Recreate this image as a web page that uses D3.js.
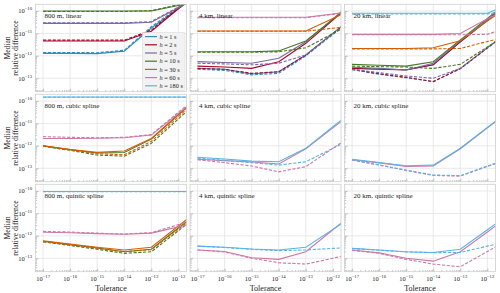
<!DOCTYPE html>
<html><head><meta charset="utf-8">
<script src="https://cdn.jsdelivr.net/npm/d3@7"></script>
<style>
body{margin:0;background:#fff}
svg{display:block}
text{font-family:"Liberation Serif","DejaVu Serif",serif;fill:#222}
</style></head>
<body><svg id="chart" width="500" height="293"></svg>
<script>
// ---------- data ----------
const tolerances = [1e-17, 1e-16, 1e-15, 1e-14, 1e-13, 1e-12, 1e-11];
const stepLabels = ["1 s", "2 s", "5 s", "10 s", "30 s", "60 s", "180 s"];
const stepColors = ["#348ABD", "#A60628", "#7A68A6", "#467821", "#D55E00", "#CC79A7", "#56B4E9"];
const panelTitles = [
  "800 m, linear", "4 km, linear", "20 km, linear",
  "800 m, cubic spline", "4 km, cubic spline", "20 km, cubic spline",
  "800 m, quintic spline", "4 km, quintic spline", "20 km, quintic spline"
];
const xTickExponents = [-17, -16, -15, -14, -13, -12];
const yTickExponents = [-13, -12, -11, -10];

// each entry: [step index, solid (log10 median), dashed (log10 median)]
const linear800 = [
  [0, [-11.89, -11.89, -11.90, -11.79, -10.76, -9.90, -9.04], [-11.85, -11.85, -11.86, -11.75, -10.70, -9.85, -9.00]],
  [1, [-11.34, -11.34, -11.34, -11.34, -10.90, -9.90, -8.90], [-11.30, -11.30, -11.30, -11.30, -10.85, -9.85, -8.85]],
  [2, [-10.55, -10.55, -10.55, -10.55, -10.50, -9.85, -9.20], [-10.53, -10.53, -10.53, -10.53, -10.47, -9.82, -9.17]],
  [3, [-10.00, -10.00, -10.00, -10.00, -10.00, -9.75, -9.50], [-10.02, -10.02, -10.02, -10.02, -9.98, -9.72, -9.46]]
];
const linear4k = [
  [0, [-12.56, -12.60, -12.81, -12.71, -11.96, -11.00, -10.04], [-12.60, -12.65, -12.85, -12.78, -12.00, -11.05, -10.10]],
  [1, [-12.46, -12.50, -12.56, -12.26, -11.44, -10.40, -9.36], [-12.56, -12.60, -12.78, -12.71, -11.96, -11.00, -10.04]],
  [2, [-12.26, -12.30, -12.33, -12.11, -11.37, -10.35, -9.33], [-12.33, -12.36, -12.40, -12.33, -11.96, -11.00, -10.04]],
  [3, [-11.82, -11.82, -11.82, -11.78, -11.34, -10.37, -9.40], [-11.84, -11.84, -11.84, -11.82, -11.64, -11.00, -10.36]],
  [4, [-10.89, -10.89, -10.89, -10.89, -10.89, -10.33, -9.77], [-10.90, -10.90, -10.90, -10.90, -10.90, -10.77, -10.64]],
  [5, [-10.28, -10.28, -10.28, -10.28, -10.28, -10.13, -9.98], [-10.30, -10.30, -10.30, -10.30, -10.30, -10.15, -10.00]]
];
const linear20k = [
  [0, [-12.55, -12.59, -12.62, -12.40, -11.38, -10.42, -9.46], [-12.62, -12.82, -12.98, -13.15, -12.58, -11.66, -10.74]],
  [1, [-12.56, -12.60, -12.63, -12.40, -11.37, -10.40, -9.43], [-12.60, -12.80, -12.96, -13.15, -12.56, -11.64, -10.73]],
  [2, [-12.51, -12.56, -12.63, -12.33, -11.33, -10.40, -9.47], [-12.60, -12.75, -12.90, -13.00, -12.56, -11.64, -10.73]],
  [3, [-12.38, -12.42, -12.46, -12.26, -11.29, -10.33, -9.37], [-12.46, -12.48, -12.50, -12.56, -12.38, -11.60, -10.82]],
  [4, [-11.67, -11.67, -11.67, -11.64, -11.33, -10.45, -9.60], [-11.69, -11.69, -11.69, -11.69, -11.67, -11.36, -11.05]],
  [5, [-11.04, -11.04, -11.04, -11.04, -11.00, -10.35, -9.80], [-11.06, -11.06, -11.06, -11.06, -11.06, -11.04, -10.64]],
  [6, [-10.10, -10.10, -10.10, -10.10, -10.10, -10.10, -9.60], [-10.13, -10.13, -10.13, -10.13, -10.13, -10.13, -9.95]]
];
const cubic800 = [
  [3, [-12.00, -12.17, -12.32, -12.30, -11.70, -10.62, -9.54], [-12.02, -12.20, -12.41, -12.46, -11.89, -10.80, -9.71]],
  [4, [-12.00, -12.16, -12.29, -12.23, -11.67, -10.60, -9.53], [-12.00, -12.18, -12.35, -12.40, -11.80, -10.70, -9.60]],
  [5, [-11.67, -11.67, -11.66, -11.64, -11.52, -10.55, -9.58], [-11.59, -11.62, -11.64, -11.62, -11.50, -10.50, -9.50]],
  [6, [-9.82, -9.82, -9.82, -9.82, -9.82, -9.82, -9.82], [-9.83, -9.83, -9.83, -9.83, -9.83, -9.83, -9.83]]
];
const cubic4k = [
  [5, [-12.60, -12.66, -12.72, -12.81, -12.13, -11.20, -10.27], [-12.62, -12.75, -12.90, -13.16, -12.93, -12.11, -11.29]],
  [6, [-12.51, -12.59, -12.68, -12.71, -12.11, -11.15, -10.19], [-12.55, -12.65, -12.75, -12.86, -12.71, -12.11, -11.51]]
];
const cubic20k = [
  [5, [-12.62, -12.76, -12.92, -12.90, -12.13, -11.20, -10.27], [-12.64, -12.86, -13.10, -13.32, -13.35, -12.92, -12.50]],
  [6, [-12.60, -12.74, -12.89, -12.86, -12.11, -11.18, -10.25], [-12.62, -12.85, -13.08, -13.30, -13.33, -12.90, -12.48]]
];
const quintic800 = [
  [3, [-12.24, -12.39, -12.54, -12.71, -12.60, -11.65, -10.70], [-12.27, -12.43, -12.60, -12.78, -12.71, -11.77, -10.83]],
  [4, [-12.22, -12.37, -12.51, -12.63, -12.51, -11.56, -10.61], [-12.25, -12.40, -12.56, -12.70, -12.62, -11.70, -10.78]],
  [5, [-11.84, -11.86, -11.90, -11.93, -11.88, -11.60, -11.32], [-11.80, -11.83, -11.88, -11.92, -11.86, -11.50, -11.14]],
  [6, [-10.02, -10.02, -10.02, -10.02, -10.02, -10.02, -10.02], [-10.03, -10.03, -10.03, -10.03, -10.03, -10.03, -10.03]]
];
const quintic4k = [
  [5, [-12.63, -12.70, -12.98, -13.05, -12.71, -11.73, -10.75], [-12.63, -12.72, -13.00, -13.20, -13.26, -13.00, -12.74]],
  [6, [-12.46, -12.51, -12.59, -12.63, -12.51, -11.71, -10.91], [-12.46, -12.52, -12.60, -12.66, -12.63, -12.56, -12.49]]
];
const quintic20k = [
  [5, [-12.63, -12.76, -13.00, -13.13, -12.71, -11.83, -10.94], [-12.65, -12.78, -13.05, -13.26, -13.38, -12.70, -12.02]],
  [6, [-12.56, -12.63, -12.71, -12.74, -12.60, -11.73, -10.86], [-12.57, -12.64, -12.72, -12.75, -12.74, -12.46, -12.17]]
];
const panelData = [linear800, linear4k, linear20k, cubic800, cubic4k, cubic20k, quintic800, quintic4k, quintic20k];

// ---------- layout ----------
const svg = d3.select("#chart");
const panelLeft = [35.5, 190, 344.5], panelW = 151;
const panelTop = [4.3, 94.3, 184.3], panelH = 87.4;
const xDomain = [Math.pow(10, -17.28), Math.pow(10, -11.70)];
const yDomain = [Math.pow(10, -13.6), Math.pow(10, -9.7)];
const gridColor = "#e3e3e3", frameColor = "#cfcfcf", tickColor = "#9a9a9a";

function sup(sel, exp, size) {
  sel.append("tspan").text("10");
  sel.append("tspan").attr("dy", -size * 0.45).attr("font-size", size * 0.72).text("\u2212" + Math.abs(exp));
}

const defs = svg.append("defs");

panelData.forEach((series, i) => {
  const col = i % 3, row = Math.floor(i / 3);
  const L = panelLeft[col], T = panelTop[row];
  const x = d3.scaleLog().domain(xDomain).range([L, L + panelW]);
  const y = d3.scaleLog().domain(yDomain).range([T + panelH, T]);
  const g = svg.append("g");

  g.append("rect").attr("x", L).attr("y", T).attr("width", panelW).attr("height", panelH).attr("fill", "#fff");

  xTickExponents.forEach(e => {
    g.append("line").attr("x1", x(Math.pow(10, e))).attr("x2", x(Math.pow(10, e)))
      .attr("y1", T).attr("y2", T + panelH).attr("stroke", gridColor).attr("stroke-width", 0.8);
  });
  yTickExponents.forEach(e => {
    g.append("line").attr("y1", y(Math.pow(10, e))).attr("y2", y(Math.pow(10, e)))
      .attr("x1", L).attr("x2", L + panelW).attr("stroke", gridColor).attr("stroke-width", 0.8);
  });

  const xMinor = [];
  for (let e = -18; e <= -12; e++) for (let m = 2; m <= 9; m++) {
    const v = m * Math.pow(10, e);
    if (v > xDomain[0] && v < xDomain[1]) xMinor.push(v);
  }
  const yMinor = [];
  for (let e = -14; e <= -10; e++) for (let m = 2; m <= 9; m++) {
    const v = m * Math.pow(10, e);
    if (v > yDomain[0] && v < yDomain[1]) yMinor.push(v);
  }
  const xMaj = xTickExponents.map(e => Math.pow(10, e));
  const yMaj = yTickExponents.map(e => Math.pow(10, e));
  const axB1 = g.append("g").attr("transform", `translate(0,${T + panelH})`)
    .call(d3.axisBottom(x).tickValues(xMaj).tickSize(-3).tickFormat(""));
  const axB2 = g.append("g").attr("transform", `translate(0,${T + panelH})`)
    .call(d3.axisBottom(x).tickValues(xMinor).tickSize(-1.6).tickFormat(""));
  const axL1 = g.append("g").attr("transform", `translate(${L},0)`)
    .call(d3.axisLeft(y).tickValues(yMaj).tickSize(-3).tickFormat(""));
  const axL2 = g.append("g").attr("transform", `translate(${L},0)`)
    .call(d3.axisLeft(y).tickValues(yMinor).tickSize(-1.6).tickFormat(""));
  [axB1, axB2, axL1, axL2].forEach(a => {
    a.select(".domain").remove();
    a.selectAll("line").attr("stroke", tickColor).attr("stroke-width", 0.6);
  });

  const cid = "clip" + i;
  defs.append("clipPath").attr("id", cid).append("rect")
    .attr("x", L).attr("y", T).attr("width", panelW).attr("height", panelH);
  const lg = g.append("g").attr("clip-path", `url(#${cid})`);
  const line = d3.line().x((d, k) => x(tolerances[k])).y(d => y(Math.pow(10, d)));
  series.forEach(([s, solid, dashed]) => {
    lg.append("path").attr("d", line(solid)).attr("fill", "none")
      .attr("stroke", stepColors[s]).attr("stroke-width", 1.1);
    lg.append("path").attr("d", line(dashed)).attr("fill", "none")
      .attr("stroke", stepColors[s]).attr("stroke-width", 1.1).attr("stroke-dasharray", "3.2,1.6");
  });

  g.append("rect").attr("x", L).attr("y", T).attr("width", panelW).attr("height", panelH)
    .attr("fill", "none").attr("stroke", frameColor).attr("stroke-width", 0.8);

  g.append("text").attr("x", L + 9).attr("y", T + 13.8).attr("font-size", 7).text(panelTitles[i]);

  if (col === 0) {
    yTickExponents.forEach(e => {
      const t = g.append("text").attr("x", L - 3.5).attr("y", y(Math.pow(10, e)) + 2.3)
        .attr("text-anchor", "end").attr("font-size", 6.5);
      sup(t, e, 6.5);
    });
    svg.append("text").attr("transform", `translate(9.5,${T + panelH / 2}) rotate(-90)`)
      .attr("text-anchor", "middle").attr("font-size", 7.6).text("Median");
    svg.append("text").attr("transform", `translate(17.5,${T + panelH / 2}) rotate(-90)`)
      .attr("text-anchor", "middle").attr("font-size", 7.6).text("relative difference");
  }
  if (row === 2) {
    xTickExponents.forEach(e => {
      const t = g.append("text").attr("x", x(Math.pow(10, e))).attr("y", T + panelH + 9.5)
        .attr("text-anchor", "middle").attr("font-size", 6.5);
      sup(t, e, 6.5);
    });
    svg.append("text").attr("x", L + panelW / 2).attr("y", 290.5)
      .attr("text-anchor", "middle").attr("font-size", 8).text("Tolerance");
  }
});

// ---------- legend (first panel) ----------
const leg = svg.append("g");
leg.append("rect").attr("x", 142.5).attr("y", 32.5).attr("width", 42.5).attr("height", 58)
  .attr("fill", "#f2f2f2").attr("stroke", "#dadada").attr("stroke-width", 0.6).attr("rx", 1);
stepLabels.forEach((lab, k) => {
  const yy = 36.6 + k * 8.2;
  leg.append("line").attr("x1", 145).attr("x2", 157).attr("y1", yy).attr("y2", yy)
    .attr("stroke", stepColors[k]).attr("stroke-width", 1.2);
  const t = leg.append("text").attr("x", 159.5).attr("y", yy + 2.2).attr("font-size", 6.3);
  t.append("tspan").attr("font-style", "italic").text("h");
  t.append("tspan").text(" = " + lab);
});
</script></body></html>
